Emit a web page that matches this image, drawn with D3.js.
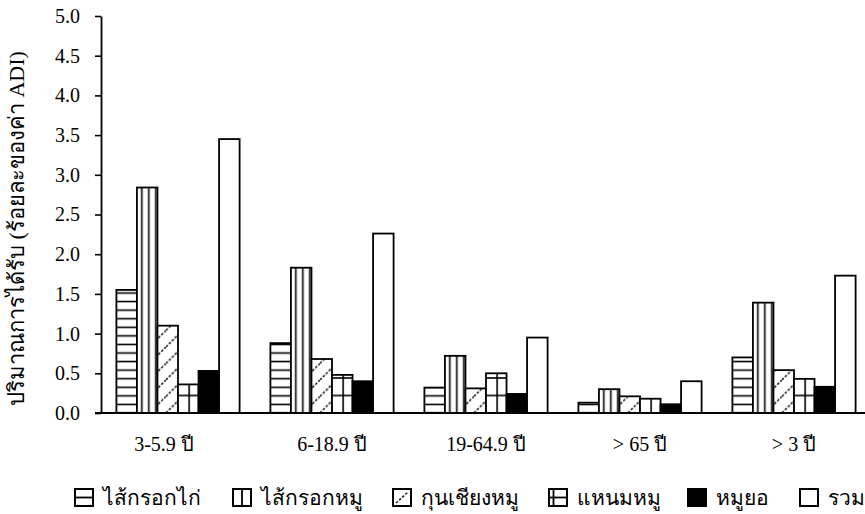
<!DOCTYPE html>
<html>
<head>
<meta charset="utf-8">
<script src="https://cdn.jsdelivr.net/npm/d3@7"></script>
<style>
  html, body { margin: 0; padding: 0; background: #fff; }
  svg { display: block; }
  text { font-family: "Liberation Serif", "DejaVu Serif", serif; fill: #000; }
</style>
</head>
<body>
<svg id="chart" width="865" height="514"></svg>
<script>
// ---- data ----
const categories = ["3-5.9 ปี", "6-18.9 ปี", "19-64.9 ปี", "> 65 ปี", "> 3 ปี"];
const seriesNames = ["ไส้กรอกไก่", "ไส้กรอกหมู", "กุนเชียงหมู", "แหนมหมู", "หมูยอ", "รวม"];
const chickenSausage = [1.55, 0.88, 0.32, 0.13, 0.70];
const porkSausage    = [2.84, 1.83, 0.72, 0.30, 1.39];
const kunChiang      = [1.10, 0.68, 0.31, 0.21, 0.54];
const naem           = [0.36, 0.48, 0.50, 0.18, 0.43];
const mooYor         = [0.53, 0.40, 0.24, 0.11, 0.33];
const totalIntake    = [3.45, 2.26, 0.95, 0.40, 1.73];
const yTicks = [0, 0.5, 1, 1.5, 2, 2.5, 3, 3.5, 4, 4.5, 5];
const yTitle = "ปริมาณการได้รับ (ร้อยละของค่า ADI)";

const seriesValues = [chickenSausage, porkSausage, kunChiang, naem, mooYor, totalIntake];

// ---- layout ----
const svg = d3.select("#chart");
const mLeft = 101, mRight = 871, mTop = 16, mBottom = 413;

const x0 = d3.scaleBand().domain(categories).range([mLeft, mRight]).paddingInner(0.2).paddingOuter(0.1);
const x1 = d3.scaleBand().domain(seriesNames).range([0, x0.bandwidth()]);
const y = d3.scaleLinear().domain([0, 5]).range([mBottom, mTop]);

const defs = svg.append("defs");
const bw = x1.bandwidth();
const y0 = y(0);

// horizontal lines
{
  const p = defs.append("pattern").attr("id", "pHoriz").attr("patternUnits", "userSpaceOnUse")
    .attr("x", 0).attr("y", y0 - 4.3).attr("width", 10).attr("height", 8.57);
  p.append("rect").attr("width", 10).attr("height", 8.57).attr("fill", "#fff");
  p.append("line").attr("x1", 0).attr("x2", 10).attr("y1", 4.3).attr("y2", 4.3)
    .attr("stroke", "#000").attr("stroke-width", 1.6);
}
// vertical lines
{
  const p = defs.append("pattern").attr("id", "pVert").attr("patternUnits", "userSpaceOnUse")
    .attr("x", x0(categories[0]) + x1(seriesNames[1]) + 4).attr("y", 0).attr("width", 7).attr("height", 10);
  p.append("rect").attr("width", 7).attr("height", 10).attr("fill", "#fff");
  p.append("line").attr("x1", 3.5).attr("x2", 3.5).attr("y1", 0).attr("y2", 10)
    .attr("stroke", "#000").attr("stroke-width", 1.6);
}
// dashed diagonals
{
  const s = 16.5;
  const p = defs.append("pattern").attr("id", "pDiag").attr("patternUnits", "userSpaceOnUse")
    .attr("x", 0).attr("y", y0).attr("width", s).attr("height", s);
  p.append("rect").attr("width", s).attr("height", s).attr("fill", "#fff");
  [[0, s, s, 0], [-2, 2, 2, -2], [s - 2, s + 2, s + 2, s - 2]].forEach(([a, b, c, d]) => {
    p.append("line").attr("x1", a).attr("y1", b).attr("x2", c).attr("y2", d)
      .attr("stroke", "#222").attr("stroke-width", 1.6).attr("stroke-dasharray", "2.6,1.6");
  });
}
// grid (vertical at bar centre, horizontals every ~17.5px)
{
  const pw = x0.step() / 8, ph = 17.5;
  const cx = x0(categories[0]) + x1(seriesNames[3]) + bw / 2;
  const p = defs.append("pattern").attr("id", "pGrid").attr("patternUnits", "userSpaceOnUse")
    .attr("x", cx - pw / 2).attr("y", y0 - ph / 2).attr("width", pw).attr("height", ph);
  p.append("rect").attr("width", pw).attr("height", ph).attr("fill", "#fff");
  p.append("line").attr("x1", pw / 2).attr("x2", pw / 2).attr("y1", 0).attr("y2", ph)
    .attr("stroke", "#000").attr("stroke-width", 1.6);
  p.append("line").attr("x1", 0).attr("x2", pw).attr("y1", ph / 2).attr("y2", ph / 2)
    .attr("stroke", "#000").attr("stroke-width", 1.6);
}

const fills = ["url(#pHoriz)", "url(#pVert)", "url(#pDiag)", "url(#pGrid)", "#000", "#fff"];

// ---- bars ----
const groups = svg.append("g").selectAll("g").data(categories).join("g")
  .attr("transform", d => `translate(${x0(d)},0)`);

groups.selectAll("rect")
  .data((c, ci) => seriesNames.map((s, si) => ({ s, si, v: seriesValues[si][ci] })))
  .join("rect")
  .attr("x", d => x1(d.s))
  .attr("width", bw)
  .attr("y", d => y(d.v))
  .attr("height", d => y(0) - y(d.v))
  .attr("fill", d => fills[d.si])
  .attr("stroke", "#000")
  .attr("stroke-width", 1.8);

// ---- axes ----
const yAxis = svg.append("g").attr("transform", `translate(${mLeft},0)`)
  .call(d3.axisLeft(y).tickValues(yTicks).tickFormat(d3.format(".1f")).tickSize(6).tickPadding(15).tickSizeOuter(0));
yAxis.select(".domain").attr("stroke", "#000").attr("stroke-width", 1.8);
yAxis.selectAll(".tick line").attr("stroke", "#000").attr("stroke-width", 1.6);
yAxis.selectAll("text").style("font-size", "20px").style("font-family", "'Liberation Serif', serif");

const xAxis = svg.append("g").attr("transform", `translate(0,${mBottom})`)
  .call(d3.axisBottom(x0).tickSize(0).tickPadding(24).tickSizeOuter(0));
xAxis.select(".domain").attr("stroke", "#000").attr("stroke-width", 1.8)
  .attr("d", `M${mLeft - 6},0H${mRight}`);
xAxis.selectAll("text").style("font-size", "20px").style("font-family", "'Liberation Serif', serif")
  .attr("dx", (d, i) => i === 0 ? -14 : 0);

// y title
svg.append("text")
  .attr("transform", `translate(24,${(mTop + mBottom) / 2 + 14}) rotate(-90)`)
  .attr("text-anchor", "middle")
  .style("font-size", "22px")
  .text(yTitle);

// ---- legend ----
const legendX = [75, 233, 393, 549, 688, 800];
const legend = svg.append("g").attr("transform", "translate(0,489)");
const li = legend.selectAll("g").data(seriesNames).join("g")
  .attr("transform", (d, i) => `translate(${legendX[i]},0)`);
li.append("rect").attr("width", 18).attr("height", 17)
  .attr("fill", (d, i) => i === 4 ? "#000" : "#fff").attr("stroke", "#000").attr("stroke-width", 2);
li.filter((d, i) => i === 0).append("line").attr("x1", 0).attr("x2", 18).attr("y1", 8.5).attr("y2", 8.5).attr("stroke", "#000").attr("stroke-width", 1.8);
li.filter((d, i) => i === 1).append("line").attr("x1", 9).attr("x2", 9).attr("y1", 0).attr("y2", 17).attr("stroke", "#000").attr("stroke-width", 1.8);
li.filter((d, i) => i === 2).append("line").attr("x1", 3).attr("x2", 15).attr("y1", 14).attr("y2", 3).attr("stroke", "#222").attr("stroke-width", 1.6).attr("stroke-dasharray", "2.6,1.6");
li.filter((d, i) => i === 3).append("line").attr("x1", 0).attr("x2", 18).attr("y1", 8.5).attr("y2", 8.5).attr("stroke", "#000").attr("stroke-width", 1.8);
li.filter((d, i) => i === 3).append("line").attr("x1", 4.5).attr("x2", 4.5).attr("y1", 0).attr("y2", 17).attr("stroke", "#000").attr("stroke-width", 1.8);
li.append("text").attr("x", 28).attr("y", 16).style("font-size", "21px").text(d => d);
</script>
</body>
</html>
